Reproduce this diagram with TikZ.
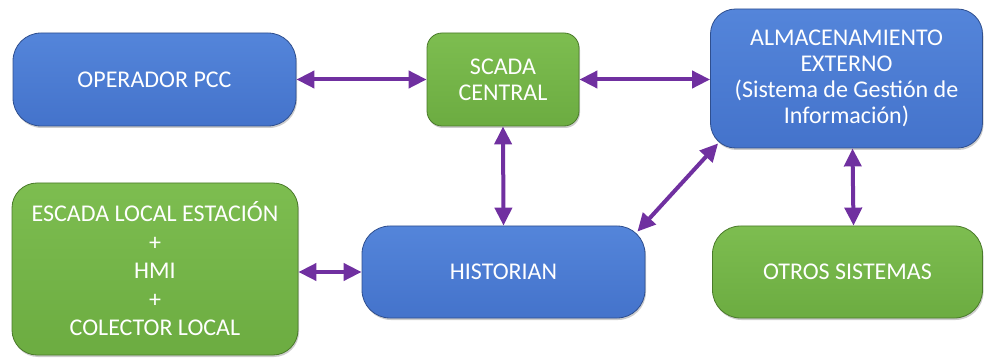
\documentclass[tikz,border=0pt]{standalone}
\usepackage{fontspec}
\setmainfont{Carlito}
\usetikzlibrary{arrows.meta,shadows}
\definecolor{bluebox}{HTML}{4A7BD3}
\definecolor{bluetop}{HTML}{5485DA}
\definecolor{bluebot}{HTML}{4473CB}
\definecolor{blueedge}{HTML}{2F4F8F}
\definecolor{greenbox}{HTML}{74B446}
\definecolor{greentop}{HTML}{7DBD50}
\definecolor{greenbot}{HTML}{6CAC41}
\definecolor{greenedge}{HTML}{4A7A2A}
\definecolor{arrowpurple}{HTML}{7030A0}
\tikzset{
  basebox/.style={rectangle, align=center, text=white, font=\fontsize{24}{26}\selectfont,
    line width=0.8pt, inner sep=2pt,
    drop shadow={shadow xshift=1pt, shadow yshift=-2pt, opacity=0.4}},
  bluenode/.style={basebox, draw=blueedge, top color=bluetop, bottom color=bluebot},
  greennode/.style={basebox, draw=greenedge, top color=greentop, bottom color=greenbot},
  link/.style={draw=arrowpurple, line width=4pt,
    {Triangle[length=18pt,width=17pt]}-{Triangle[length=18pt,width=17pt]}}
}
\begin{document}
\begin{tikzpicture}[x=1pt,y=-1pt]
\useasboundingbox (0,0) rectangle (985,358);
\node[bluenode, minimum width=283pt, minimum height=93pt, rounded corners=28pt] (op) at (154.5,79.5) {OPERADOR PCC};
\node[greennode, minimum width=152pt, minimum height=93pt, rounded corners=15pt] (sc) at (503,79.5) {SCADA\\CENTRAL};
\node[bluenode, minimum width=272pt, minimum height=139pt, rounded corners=25pt] (alm) at (846.5,78.5) {ALMACENAMIENTO\\EXTERNO\\(Sistema de Gestión de\\Información)};
\node[greennode, minimum width=286pt, minimum height=172pt, rounded corners=25pt, font=\fontsize{24}{28.5}\selectfont] (esc) at (155,269) {ESCADA LOCAL ESTACIÓN\\+\\HMI\\+\\COLECTOR LOCAL};
\node[bluenode, minimum width=283pt, minimum height=92pt, rounded corners=28pt] (his) at (503.5,272) {HISTORIAN};
\node[greennode, minimum width=270pt, minimum height=92pt, rounded corners=28pt] (otr) at (847.5,272) {OTROS SISTEMAS};
\draw[link] (op.east) -- (sc.west);
\draw[link] (sc.east) -- (sc.east -| alm.west);
\draw[link] (sc.south) -- (his.north);
\draw[link] ([xshift=6pt]alm.south) -- ([xshift=6pt]otr.north);
\draw[link] (esc.east |- his.west) -- (his.west);
\draw[link] ([shift={(-8,6)}]his.north east) -- ([shift={(8,-5)}]alm.south west);
\end{tikzpicture}
\end{document}
